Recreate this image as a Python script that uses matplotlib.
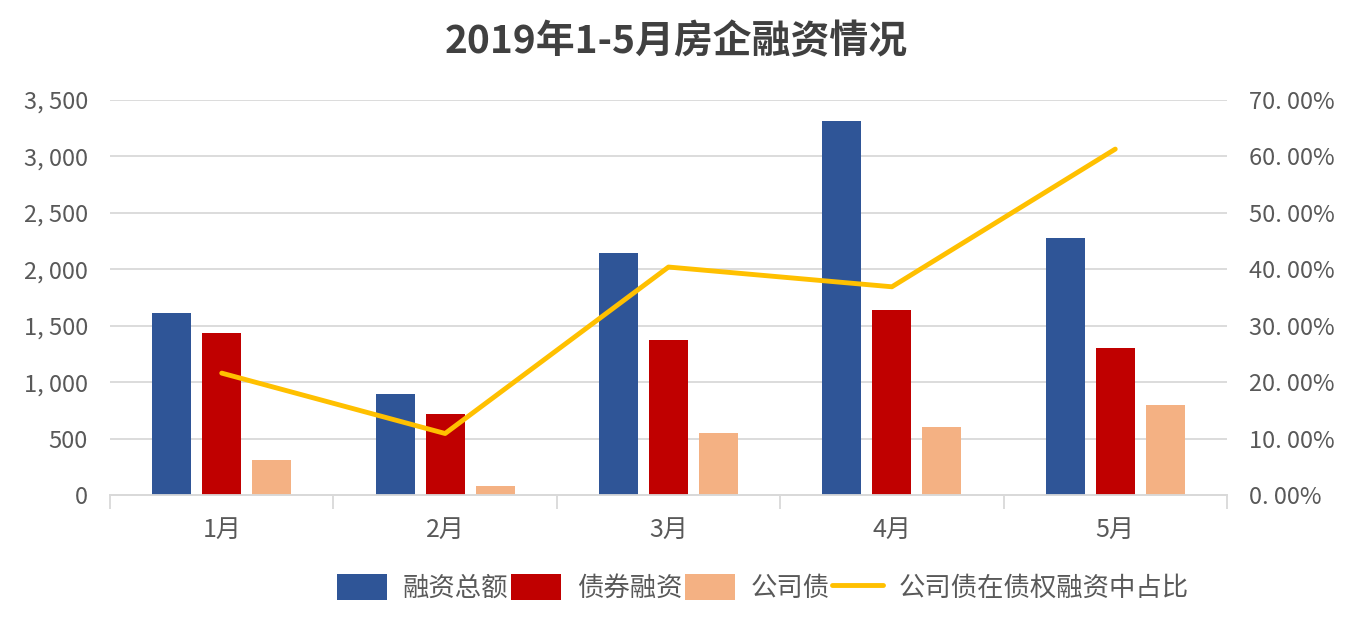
import matplotlib
matplotlib.use("Agg")
import matplotlib.pyplot as plt
from matplotlib.ticker import FuncFormatter, MultipleLocator
import numpy as np

plt.rcParams['font.family'] = ['Noto Sans CJK SC', 'DejaVu Sans']

BLUE = "#2F5597"
RED = "#C00000"
PEACH = "#F4B183"
GOLD = "#FFC000"
TEXT = "#595959"
GRID = "#D9D9D9"

months = ["1月", "2月", "3月", "4月", "5月"]
total_financing = [1613, 895, 2144, 3314, 2277]
bond_financing = [1435, 718, 1373, 1639, 1302]
corporate_bonds = [310, 80, 549, 602, 797]
corp_share = [0.216, 0.109, 0.404, 0.369, 0.613]

fig = plt.figure(figsize=(13.52, 6.27), dpi=100)
ax = fig.add_axes([0.0814, 0.2105, 0.8261, 0.63])
ax2 = ax.twinx()

x = np.arange(len(months))
w = 0.175
off = 0.224
ax.bar(x - off, total_financing, w, color=BLUE, label="融资总额", zorder=3)
ax.bar(x, bond_financing, w, color=RED, label="债券融资", zorder=3)
ax.bar(x + off, corporate_bonds, w, color=PEACH, label="公司债", zorder=3)
ax2.plot(x, corp_share, color=GOLD, linewidth=3.5, label="公司债在债权融资中占比",
         solid_capstyle="round")

ax.set_xlim(-0.5, len(months) - 0.5)
ax.set_ylim(0, 3500)
ax2.set_ylim(0, 0.7)
ax.yaxis.set_major_locator(MultipleLocator(500))
ax2.yaxis.set_major_locator(MultipleLocator(0.1))
ax.yaxis.set_major_formatter(FuncFormatter(lambda v, p: f"{v:,.0f}".replace(",", ", ")))
ax2.yaxis.set_major_formatter(FuncFormatter(lambda v, p: f"{v*100:.2f}".replace(".", ". ") + "%"))

ax.grid(axis="y", color=GRID, linewidth=1.3, zorder=0)
ax.set_axisbelow(True)
for a in (ax, ax2):
    for s in ["top", "left", "right"]:
        a.spines[s].set_visible(False)
    a.spines["bottom"].set_color(GRID)
    a.spines["bottom"].set_linewidth(1.3)
    a.tick_params(axis="y", length=0, labelsize=17, colors=TEXT)
ax.tick_params(axis="y", pad=16)
ax2.tick_params(axis="y", pad=16)

ax.set_xticks(x)
ax.set_xticklabels(months)
ax.set_xticks(np.arange(-0.5, len(months)), minor=True)
ax.tick_params(axis="x", which="major", length=0, labelsize=18, colors=TEXT, pad=16)
ax.tick_params(axis="x", which="minor", length=10, color=GRID, width=1.3)

fig.text(0.5, 1 - 42 / 627, "2019年1-5月房企融资情况", fontsize=28, fontweight="bold",
         color="#404040", ha="center", va="center")

h1, l1 = ax.get_legend_handles_labels()
h2, l2 = ax2.get_legend_handles_labels()
fig.legend(h1 + h2, l1 + l2, loc="center", bbox_to_anchor=(0.564, 0.062), ncol=4,
           frameon=False, fontsize=19, labelcolor=TEXT, handlelength=1.9,
           handleheight=1.1, columnspacing=0.1, handletextpad=0.6)

fig.savefig("out.png", dpi=100, facecolor="white")
